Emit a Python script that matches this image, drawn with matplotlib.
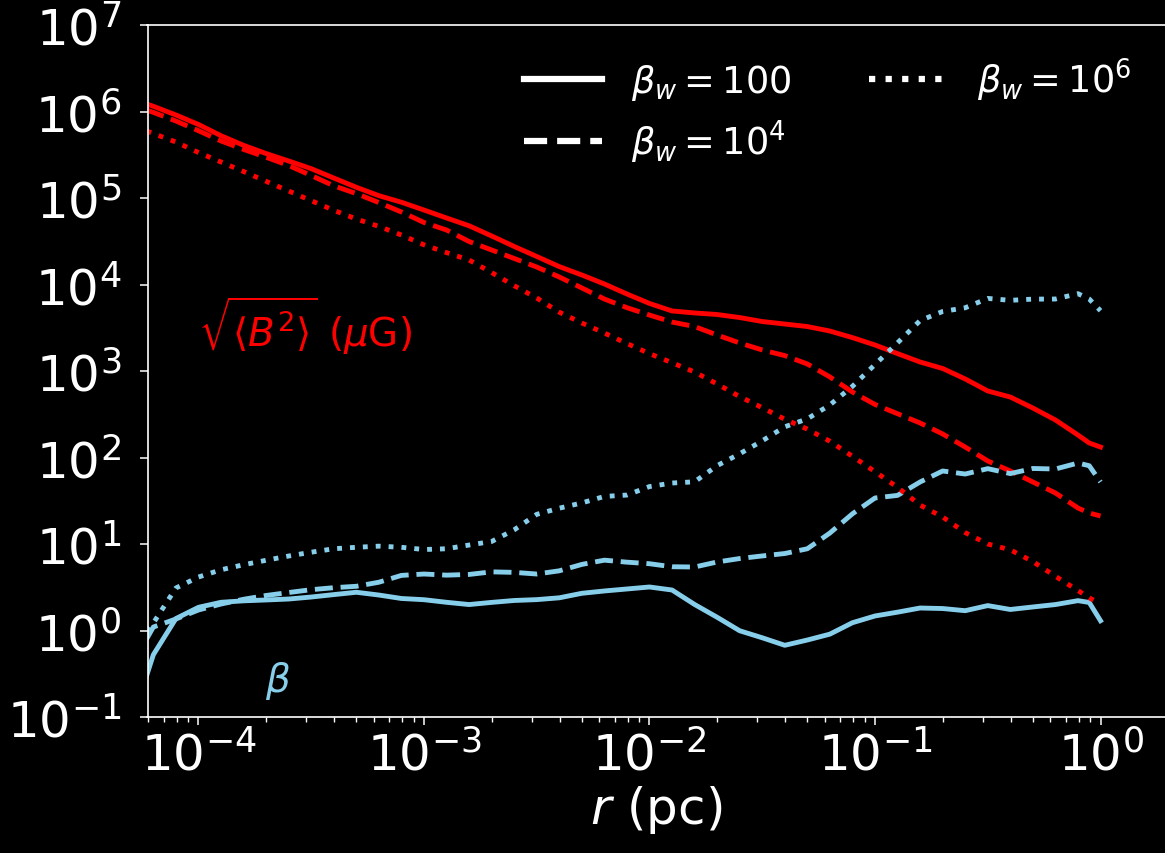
import numpy as np
import matplotlib
matplotlib.use("Agg")
import matplotlib.pyplot as plt

# radius grid, log10(r / pc)
log_r = [-4.23, -4.2, -4.1, -4.0, -3.9, -3.8, -3.7, -3.6, -3.5, -3.4, -3.3, -3.2,
         -3.1, -3.0, -2.9, -2.8, -2.7, -2.6, -2.5, -2.4, -2.3, -2.2, -2.1, -2.0,
         -1.9, -1.8, -1.7, -1.6, -1.5, -1.4, -1.3, -1.2, -1.1, -1.0, -0.9, -0.8,
         -0.7, -0.6, -0.5, -0.4, -0.3, -0.2, -0.1, -0.05, 0.0]

# log10 sqrt(<B^2>) in muG
logB_100 = [6.087, 6.06, 5.96, 5.85, 5.72, 5.609, 5.514, 5.428, 5.339, 5.231, 5.124, 5.027,
            4.951, 4.861, 4.769, 4.679, 4.561, 4.440, 4.324, 4.207, 4.110, 4.006, 3.890, 3.781,
            3.694, 3.671, 3.653, 3.618, 3.572, 3.543, 3.514, 3.462, 3.386, 3.301, 3.201, 3.104,
            3.029, 2.908, 2.769, 2.699, 2.572, 2.434, 2.260, 2.168, 2.121]
logB_1e4 = [6.017, 5.99, 5.89, 5.778, 5.659, 5.562, 5.471, 5.376, 5.260, 5.141, 5.051, 4.947,
            4.838, 4.717, 4.630, 4.497, 4.399, 4.301, 4.202, 4.087, 3.960, 3.832, 3.732, 3.647,
            3.566, 3.514, 3.416, 3.324, 3.243, 3.178, 3.081, 2.931, 2.757, 2.613, 2.506, 2.399,
            2.272, 2.121, 1.960, 1.844, 1.717, 1.590, 1.416, 1.358, 1.324]
logB_1e6 = [5.775, 5.745, 5.647, 5.526, 5.416, 5.306, 5.193, 5.081, 4.969, 4.858, 4.757, 4.672,
            4.572, 4.459, 4.369, 4.283, 4.138, 3.986, 3.844, 3.680, 3.555, 3.439, 3.318, 3.201,
            3.096, 2.988, 2.850, 2.704, 2.576, 2.442, 2.328, 2.188, 2.014, 1.836, 1.655, 1.450,
            1.312, 1.132, 1.000, 0.933, 0.797, 0.627, 0.462, 0.378, 0.306]

# log10 beta
logbeta_100 = [-0.523, -0.280, 0.138, 0.268, 0.326, 0.343, 0.353, 0.364, 0.387, 0.415, 0.442, 0.410,
               0.370, 0.356, 0.326, 0.300, 0.325, 0.347, 0.357, 0.378, 0.430, 0.457, 0.480, 0.503,
               0.468, 0.301, 0.153, -0.003, -0.084, -0.171, -0.110, -0.042, 0.090, 0.168, 0.212, 0.260,
               0.254, 0.229, 0.288, 0.243, 0.272, 0.300, 0.345, 0.324, 0.113]
logbeta_1e4 = [-0.098, 0.040, 0.133, 0.237, 0.306, 0.361, 0.405, 0.439, 0.472, 0.495, 0.511, 0.558,
               0.637, 0.653, 0.640, 0.648, 0.678, 0.672, 0.653, 0.690, 0.764, 0.813, 0.790, 0.772,
               0.737, 0.734, 0.792, 0.832, 0.862, 0.890, 0.945, 1.127, 1.349, 1.532, 1.562, 1.717,
               1.844, 1.809, 1.871, 1.814, 1.873, 1.867, 1.936, 1.905, 1.717]
logbeta_1e6 = [-0.006, 0.087, 0.491, 0.618, 0.702, 0.760, 0.812, 0.861, 0.905, 0.945, 0.962, 0.975,
               0.962, 0.936, 0.945, 0.988, 1.029, 1.164, 1.343, 1.414, 1.475, 1.550, 1.566, 1.664,
               1.705, 1.719, 1.906, 2.043, 2.193, 2.355, 2.447, 2.608, 2.823, 3.075, 3.326, 3.583,
               3.688, 3.731, 3.839, 3.817, 3.831, 3.832, 3.894, 3.832, 3.697]

labels = [r'$\beta_w = 100$', r'$\beta_w = 10^4$', r'$\beta_w = 10^6$']
styles = ['-', '--', ':']

r = 10 ** np.array(log_r)
B_sets = [logB_100, logB_1e4, logB_1e6]
beta_sets = [logbeta_100, logbeta_1e4, logbeta_1e6]

fig = plt.figure(figsize=(11.65, 8.54), dpi=100, facecolor='black')
ax = fig.add_axes([147.5 / 1165, 136 / 854, 1 - 147.5 / 1165, 692 / 854])
ax.set_facecolor('black')

lw = 3.5
for ls, lb, lbeta in zip(styles, B_sets, beta_sets):
    ax.plot(r, 10 ** np.array(lb), color='red', ls=ls, lw=lw)
    ax.plot(r, 10 ** np.array(lbeta), color='skyblue', ls=ls, lw=lw)

ax.set_xscale('log')
ax.set_yscale('log')
ax.set_xlim(10 ** -4.226, 10 ** 0.286)
ax.set_ylim(1e-1, 1e7)
ax.set_xticks([1e-4, 1e-3, 1e-2, 1e-1, 1e0])
ax.set_yticks([10.0 ** k for k in range(-1, 8)])

for s in ['left', 'bottom', 'top']:
    ax.spines[s].set_color('white')
    ax.spines[s].set_linewidth(1.2)
ax.spines['right'].set_visible(False)
ax.tick_params(which='major', direction='out', length=6, width=1.1, colors='white', labelsize=36)
ax.tick_params(which='minor', direction='out', length=3.5, width=1.0, colors='white')
ax.tick_params(axis='y', which='major', pad=13)

ax.set_xlabel(r'$r$ (pc)', color='white', fontsize=36, labelpad=2)

ax.text(1.0e-4, 1950, r'$\sqrt{\langle B^2 \rangle}$ ($\mu$G)', color='red', fontsize=28,
        ha='left', va='baseline')
ax.text(1.97e-4, 0.2, r'$\beta$', color='skyblue', fontsize=28, ha='left', va='baseline')

handles = [plt.Line2D([], [], color='white', ls=ls, lw=4.5) for ls in styles]
leg = ax.legend(handles, labels, ncol=2, frameon=False, fontsize=26.5, handlelength=2.12,
                loc='upper right', bbox_to_anchor=(0.981, 0.977), borderaxespad=0,
                columnspacing=2.1, labelspacing=0.4)
for t in leg.get_texts():
    t.set_color('white')

fig.savefig('out.png', dpi=100, facecolor='black')
